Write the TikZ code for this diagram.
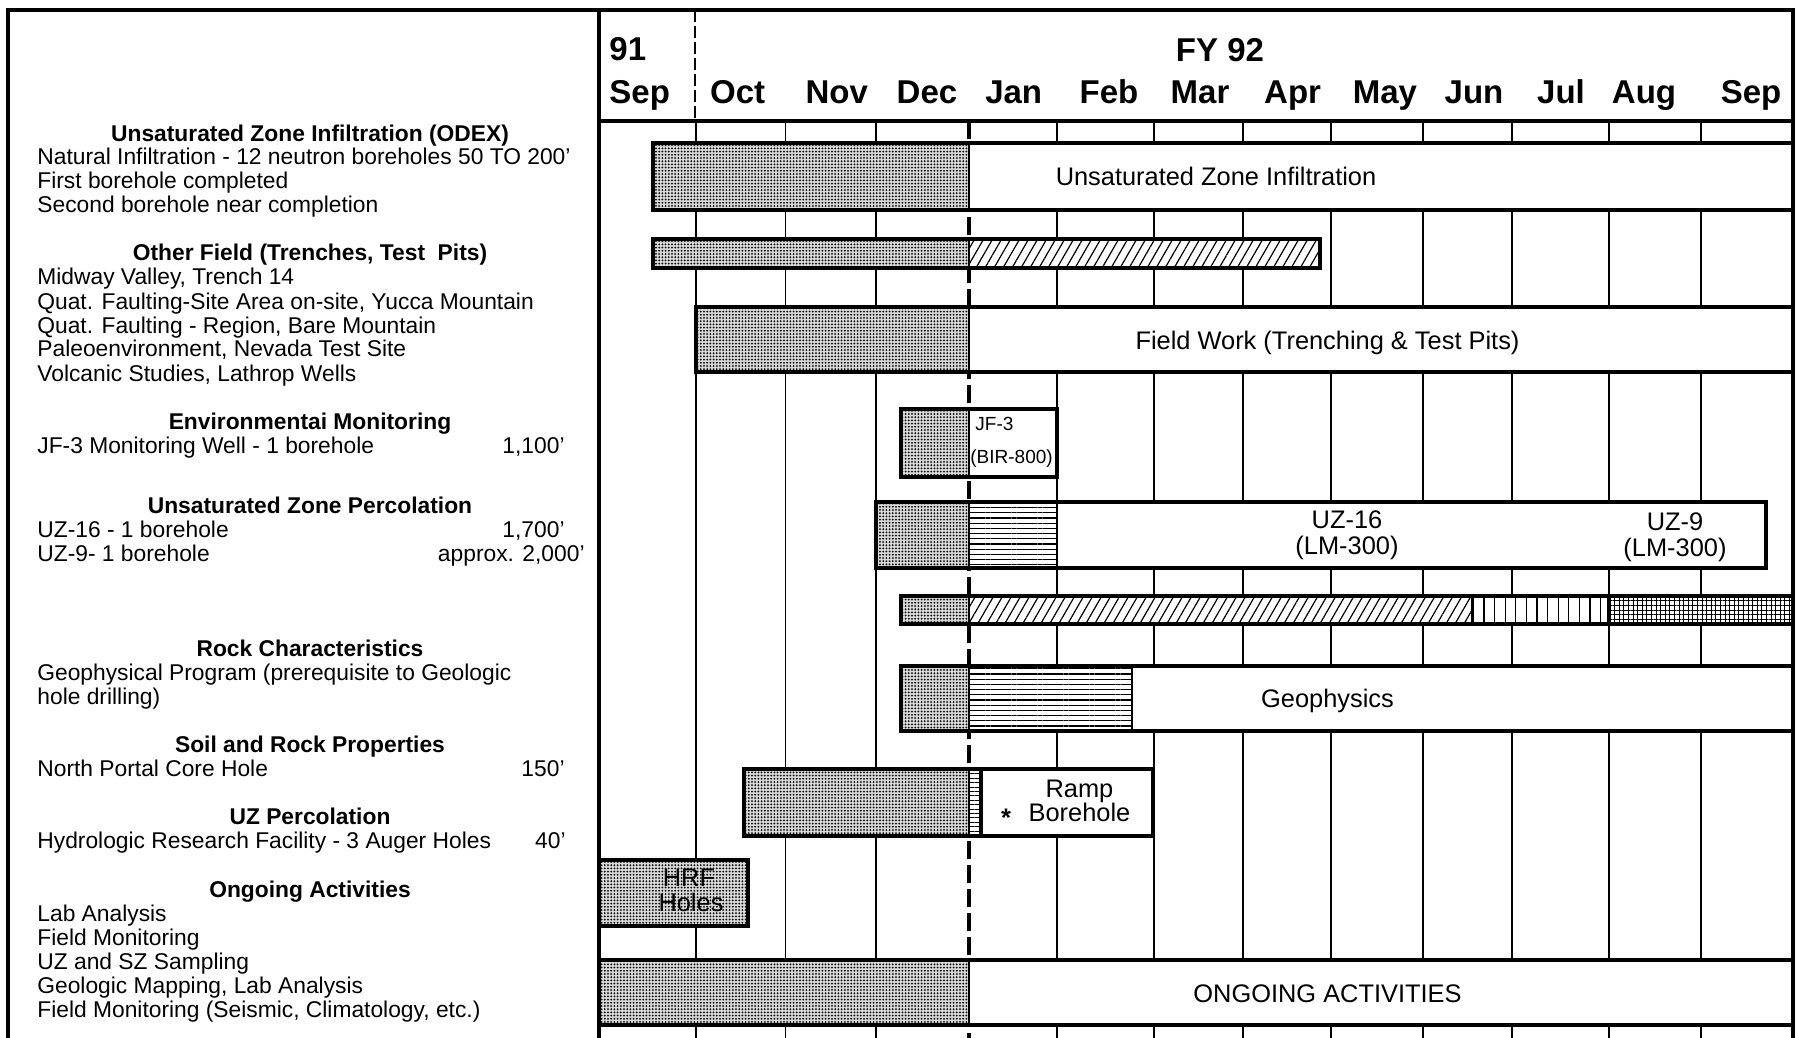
\documentclass[tikz,border=0pt]{standalone}
\usepackage{fontspec}
\setmainfont{Liberation Sans}
\usetikzlibrary{patterns.meta}
\begin{document}
\begin{tikzpicture}[x=0.5pt,y=-0.5pt,
 frame/.style={line width=2pt},
 gridl/.style={line width=0.75pt},
 janl/.style={line width=2.2pt,dash pattern=on 9pt off 3pt},
 hdash/.style={line width=0.8pt,dash pattern=on 6pt off 2pt},
 barline/.style={line width=1.6pt},
 divl/.style={line width=1pt},
 stip/.style={fill=black!15, postaction={pattern={Dots[distance=1.6pt,radius=0.5pt]}}},
 hatchNE/.style={pattern={Lines[angle=60,distance=3.9pt,line width=0.6pt]}},
 hlines/.style={pattern={Lines[angle=0,distance=2.6pt,line width=0.6pt]}},
 slines/.style={pattern={Lines[angle=0,distance=2.2pt,line width=0.5pt]}},
 vlines/.style={pattern={Lines[angle=90,distance=5.3pt,line width=0.6pt]}},
 xhatch/.style={pattern={Hatch[angle=0,distance=2.3pt,line width=0.5pt]}},
 lt/.style={font=\fontsize{11.4}{13}\selectfont, inner sep=0pt, anchor=base west},
 ln/.style={font=\fontsize{11.4}{13}\selectfont, inner sep=0pt, anchor=base east},
 lh/.style={font=\bfseries\fontsize{11.4}{13}\selectfont, inner sep=0pt, anchor=base},
 hd/.style={font=\bfseries\fontsize{16.5}{18}\selectfont, inner sep=0pt, anchor=base},
 cl/.style={font=\fontsize{12.7}{14}\selectfont, inner sep=0pt, anchor=base},
 sm/.style={font=\fontsize{9.5}{11}\selectfont, inner sep=0pt, anchor=base west},
]
\useasboundingbox (0,0) rectangle (1796,1038);
\clip (0,0) rectangle (1796,1038);
\fill[white] (0,0) rectangle (1796,1038);

% grid
\foreach \x in {696,785.5,876,1057,1154,1243,1331,1423,1512,1609,1701}
  \draw[gridl] (\x,121) -- (\x,1050);
\draw[janl] (969,121) -- (969,1050);
\draw[hdash] (695,10) -- (695,121);

% frame
\draw[frame] (8,1050) -- (8,10) -- (1793,10) -- (1793,1050);
\draw[frame] (599,10) -- (599,1050);
\draw[frame] (599,121) -- (1793,121);

% header
\node[hd,anchor=base west] (y91) at (609,61) {91};
\node[hd,anchor=base west] (mSep) at (609,104) {Sep};
\node[hd] (fy) at (1220,62) {FY 92};
\foreach \m/\x/\n in {Oct/737.6/a, Nov/836.7/b, Dec/927/c, Jan/1013.7/d, Feb/1109/e, Mar/1200/f, Apr/1292.6/g, May/1385/h, Jun/1474/i, Jul/1561/j, Aug/1644/k, Sep/1751/l}
  \node[hd] (month\n) at (\x,104) {\m};

% R1
\path[stip] (653,143) rectangle (969,210);
\fill[white] (969,143) rectangle (1793,210);
\draw[divl] (969,143) -- (969,210);
\draw[barline] (653,143) rectangle (1793,210);
\node[cl] (l1) at (1216,185.5) {Unsaturated Zone Infiltration};

% R2
\path[stip] (653,239) rectangle (969,268);
\fill[white] (969,239) rectangle (1320,268);
\path[hatchNE] (969,239) rectangle (1320,268);
\draw[divl] (969,239) -- (969,268);
\draw[barline] (653,239) rectangle (1320,268);

% R3
\path[stip] (696,307) rectangle (969,372);
\fill[white] (969,307) rectangle (1793,372);
\draw[divl] (969,307) -- (969,372);
\draw[barline] (696,307) rectangle (1793,372);
\node[cl] (l3) at (1327.5,350) {Field Work (Trenching \& Test Pits)};

% R4
\path[stip] (901,409) rectangle (969,477);
\fill[white] (969,409) rectangle (1057,477);
\draw[divl] (969,409) -- (969,477);
\draw[barline] (901,409) rectangle (1057,477);
\node[sm] (jf) at (975,430) {JF-3};
\node[sm] (bir) at (970,463) {(BIR-800)};

% R5
\path[stip] (876,502) rectangle (969,568);
\fill[white] (969,502) rectangle (1766,568);
\path[hlines] (969,502) rectangle (1057,568);
\draw[divl] (969,502) -- (969,568);
\draw[divl] (1057,502) -- (1057,568);
\draw[barline] (876,502) rectangle (1766,568);
\node[cl] (uz16a) at (1347,528) {UZ-16};
\node[cl] (uz16b) at (1347,554) {(LM-300)};
\node[cl] (uz9a) at (1675,530) {UZ-9};
\node[cl] (uz9b) at (1675,556) {(LM-300)};

% R6
\path[stip] (901,596) rectangle (969,624);
\fill[white] (969,596) rectangle (1793,624);
\path[hatchNE] (969,596) rectangle (1472,624);
\path[vlines] (1472,596) rectangle (1609,624);
\path[xhatch] (1609,596) rectangle (1793,624);
\draw[divl] (969,596) -- (969,624);
\draw[divl] (1472,596) -- (1472,624);
\draw[barline] (1609,596) -- (1609,624);
\draw[barline] (901,596) rectangle (1793,624);

% R7
\path[stip] (901,666) rectangle (969,731);
\fill[white] (969,666) rectangle (1793,731);
\path[hlines] (969,666) rectangle (1132,731);
\draw[divl] (969,666) -- (969,731);
\draw[divl] (1132,666) -- (1132,731);
\draw[barline] (901,666) rectangle (1793,731);
\node[cl] (l7) at (1327.5,707) {Geophysics};

% R8
\path[stip] (744,769) rectangle (969,836);
\fill[white] (969,769) rectangle (1153,836);
\path[slines] (969,769) rectangle (981,836);
\draw[divl] (969,769) -- (969,836);
\draw[barline] (981,769) -- (981,836);
\draw[barline] (744,769) rectangle (1153,836);
\node[cl] (ramp) at (1079.5,797) {Ramp};
\node[cl] (bore) at (1079.5,821) {Borehole};
\node[font=\bfseries\fontsize{12.7}{14}\selectfont, inner sep=0pt] (star) at (1006,818) {*};

% R9
\path[stip] (599,860) rectangle (748,926);
\draw[barline] (599,860) rectangle (748,926);
\node[cl] (hrf) at (689,886) {HRF};
\node[cl] (holes) at (691,911.5) {Holes};

% R10
\path[stip] (599,960) rectangle (969,1025);
\fill[white] (969,960) rectangle (1793,1025);
\draw[divl] (969,960) -- (969,1025);
\draw[barline] (599,960) rectangle (1793,1025);
\node[cl] (l10) at (1327.5,1002) {ONGOING ACTIVITIES};

% left panel
\node[lh] (h1) at (310,141) {Unsaturated Zone Infiltration (ODEX)};
\node[lt] (t11) at (37,165) {Natural Infiltration - 12 neutron boreholes 50 TO 200'};
\node[lt] (t12) at (37,189) {First borehole completed};
\node[lt] (t13) at (37,213) {Second borehole near completion};

\node[lh] (h2) at (310,261) {Other Field (Trenches, Test\ \ Pits)};
\node[lt] (t21) at (37,285) {Midway Valley, Trench 14};
\node[lt] (t22) at (37,309) {Quat. Faulting-Site Area on-site, Yucca Mountain};
\node[lt] (t23) at (37,333) {Quat. Faulting - Region, Bare Mountain};
\node[lt] (t24) at (37,357) {Paleoenvironment, Nevada Test Site};
\node[lt] (t25) at (37,381) {Volcanic Studies, Lathrop Wells};

\node[lh] (h3) at (310,429.5) {Environmentai Monitoring};
\node[lt] (t31) at (37,453.5) {JF-3 Monitoring Well - 1 borehole};
\node[ln] (n31) at (565,453.5) {1,100'};

\node[lh] (h4) at (310,513) {Unsaturated Zone Percolation};
\node[lt] (t41) at (37,537) {UZ-16 - 1 borehole};
\node[ln] (n41) at (565,537) {1,700'};
\node[lt] (t42) at (37,561) {UZ-9- 1 borehole};
\node[ln] (n42) at (585,561) {approx. 2,000'};

\node[lh] (h5) at (310,656) {Rock Characteristics};
\node[lt] (t51) at (37,680) {Geophysical Program (prerequisite to Geologic};
\node[lt] (t52) at (37,704) {hole drilling)};

\node[lh] (h6) at (310,752.5) {Soil and Rock Properties};
\node[lt] (t61) at (37,776.5) {North Portal Core Hole};
\node[ln] (n61) at (565,776.5) {150'};

\node[lh] (h7) at (310,824.5) {UZ Percolation};
\node[lt] (t71) at (37,848.5) {Hydrologic Research Facility - 3 Auger Holes};
\node[ln] (n71) at (566,848.5) {40'};

\node[lh] (h8) at (310,897) {Ongoing Activities};
\node[lt] (t81) at (37,921) {Lab Analysis};
\node[lt] (t82) at (37,945) {Field Monitoring};
\node[lt] (t83) at (37,969) {UZ and SZ Sampling};
\node[lt] (t84) at (37,993) {Geologic Mapping, Lab Analysis};
\node[lt] (t85) at (37,1017) {Field Monitoring (Seismic, Climatology, etc.)};
\end{tikzpicture}
\end{document}
